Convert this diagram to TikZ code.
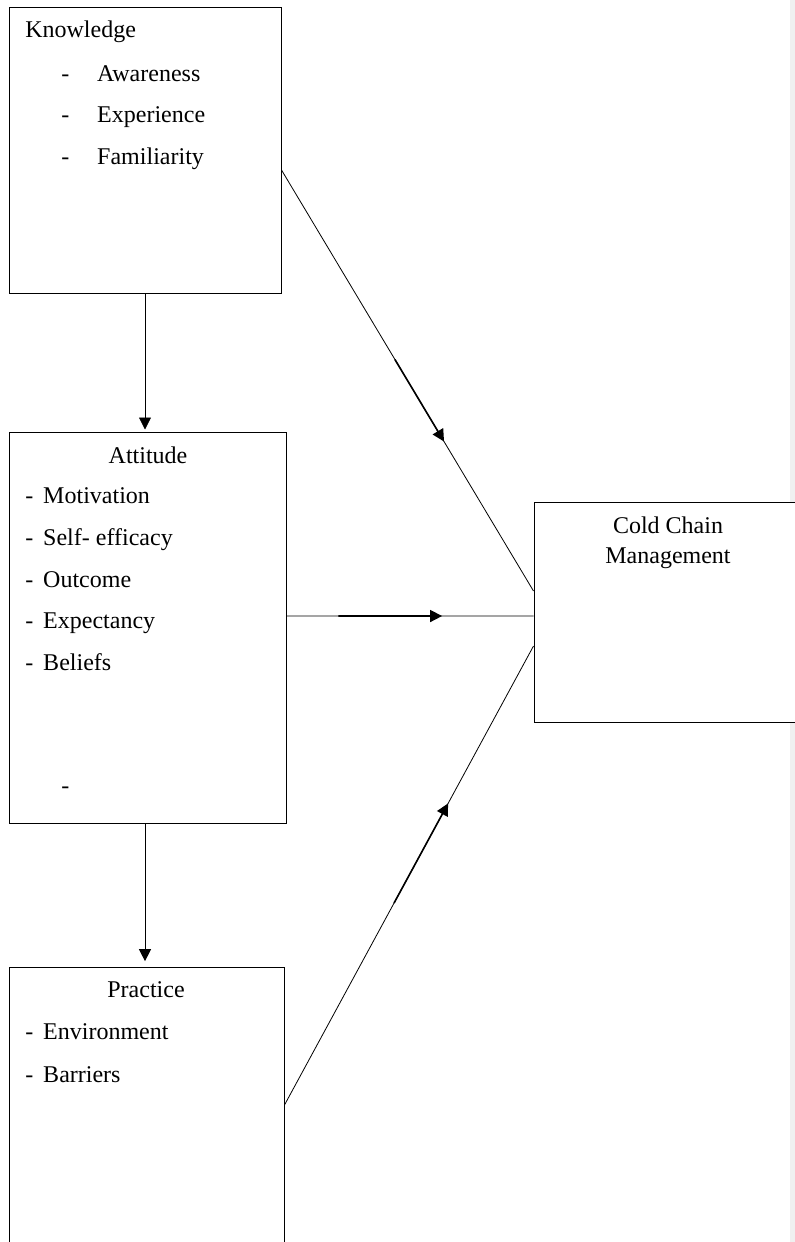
\documentclass[tikz,border=0pt]{standalone}
\usepackage{fontspec}
\setmainfont{Liberation Serif}
\usetikzlibrary{arrows.meta,positioning,fit,calc}

\begin{document}
\begin{tikzpicture}
	[x=0.75pt, y=-0.75pt, inner sep=0pt,
	font=\fontsize{18}{22.5}\selectfont,
	block/.style	= {rectangle, draw, line width=0.75pt, fill=white, inner sep=0pt},
	item/.style	= {anchor=base west},
	title/.style	= {anchor=base, align=center},
	link/.style	= {line width=0.6pt},
	paths/.style	= {-{Triangle[length=9pt,width=9pt]}, line width=1.2pt}]
	
	\useasboundingbox (0,0) rectangle (795,1242);
	\clip (0,0) rectangle (795,1242);
	\fill [white] (0,0) rectangle (795,1242);
	\fill [gray!12] (790,0) rectangle (795,1242);
	
	\node [block, fit={(9,7) (281,293)}]		(know)	{};
	\node [block, fit={(9,432) (286,823)}]		(att)	{};
	\node [block, fit={(9,967) (284,1300)}]		(prac)	{};
	\node [block, fit={(534,502) (800,722)}]	(ccm)	{};
	
	\node at (25, 37)	[item]	(knowT)	{Knowledge};
	\node at (61, 81)	[item]	(know1)	{\makebox[27pt][l]{-}Awareness};
	\node at (61, 122)	[item]	(know2)	{\makebox[27pt][l]{-}Experience};
	\node at (61, 164)	[item]	(know3)	{\makebox[27pt][l]{-}Familiarity};
	
	\node at (148, 463)	[title]	(attT)	{Attitude};
	\node at (25, 503)	[item]	(att1)	{\makebox[13.5pt][l]{-}Motivation};
	\node at (25, 545)	[item]	(att2)	{\makebox[13.5pt][l]{-}Self- efficacy};
	\node at (25, 587)	[item]	(att3)	{\makebox[13.5pt][l]{-}Outcome};
	\node at (25, 628)	[item]	(att4)	{\makebox[13.5pt][l]{-}Expectancy};
	\node at (25, 670)	[item]	(att5)	{\makebox[13.5pt][l]{-}Beliefs};
	\node at (61, 793)	[item]	(att6)	{-};
	
	\node at (146, 997)	[title]	(pracT)	{Practice};
	\node at (25, 1039)	[item]	(prac1)	{\makebox[13.5pt][l]{-}Environment};
	\node at (25, 1082)	[item]	(prac2)	{\makebox[13.5pt][l]{-}Barriers};
	
	\node at (668, 563)	[title]	(ccmT)	{Cold Chain\\Management};
	
	\draw [paths, line width=0.6pt, shorten >=1.5pt] (know.south) -- (know.south |- att.north);
	\draw [paths, line width=0.6pt, shorten >=4pt] (att.south -| know.south) -- (prac.north -| know.south);
	
	\draw [link] ([yshift=-15pt]know.east) -- coordinate[pos=0.45] (k1) coordinate[pos=0.645] (k2) ([yshift=15.75pt]ccm.west);
	\draw [paths] (k1) -- (k2);
	
	\draw [link] ([yshift=8.6pt]att.east) -- coordinate[pos=0.21] (a1) coordinate[pos=0.63] (a2) ([yshift=-3pt]ccm.west);
	\draw [paths] (a1) -- (a2);
	
	\draw [link] ([yshift=21.4pt]prac.east) -- coordinate[pos=0.44] (p1) coordinate[pos=0.657] (p2) ([yshift=-25.5pt]ccm.west);
	\draw [paths] (p1) -- (p2);
	
\end{tikzpicture}
\end{document}
